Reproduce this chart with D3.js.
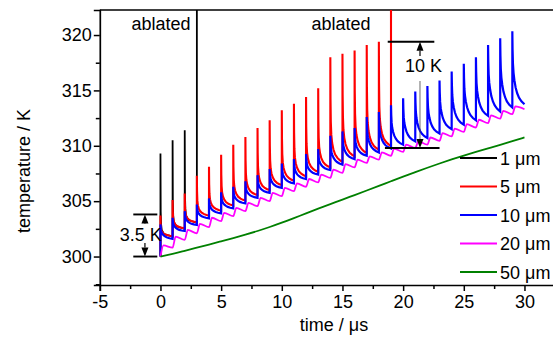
<!DOCTYPE html>
<html><head><meta charset="utf-8">
<script src="https://cdn.jsdelivr.net/npm/d3@7"></script>
<style>body{margin:0;background:#fff;} svg{display:block;font-family:"Liberation Sans",Arial,sans-serif;}</style>
</head><body><svg id="c" width="553" height="337"></svg>
<script>
// ---------- data ----------
const xTicks = [-5, 0, 5, 10, 15, 20, 25, 30];
const xMinor = [-2.5, 2.5, 7.5, 12.5, 17.5, 22.5, 27.5, 32.5];
const yTicks = [300, 305, 310, 315, 320];
const yMinor = [297.5, 302.5, 307.5, 312.5, 317.5];
const seriesNames = ["1 \u03bcm", "5 \u03bcm", "10 \u03bcm", "20 \u03bcm", "50 \u03bcm"];
const seriesColors = ["#000000", "#ff0000", "#0000ff", "#ff00ff", "#008000"];

// 1 um: spikes at t = 0,1,2 ; ablated at t = 3
const blackPeaks = [309.3, 310.5, 311.4];
const blackTroughs = [301.8, 302.5, 303.05];
const blackAblatedAt = 3;

// 5 um: spikes at t = 0..18 ; ablated at t = 19
const redPeaks = [303.7, 305.1, 305.7, 307.3, 308.1, 309.2, 310.1, 310.8, 311.6, 312.3,
                  313.2, 313.8, 314.4, 315.2, 318.0, 318.3, 318.6, 319.1, 319.4];
const redTroughs = [301.85, 302.55, 303.1, 303.7, 304.15, 304.6, 305.05, 305.55, 306.0, 306.45,
                    306.85, 307.25, 307.65, 308.05, 308.55, 309.05, 309.35, 309.65, 310.0];
const redAblatedAt = 19;

// 10 um: spikes at t = 0..29
const bluePeaks = [302.9, 303.5, 304.1, 304.7, 305.25, 305.8, 306.3, 306.8, 307.35, 307.9,
                   308.4, 308.8, 309.25, 309.7, 310.9, 311.3, 311.6, 312.6, 313.05, 313.65,
                   314.3, 314.9, 315.4, 315.9, 316.7, 317.4, 318.0, 319.1, 319.7, 320.35];
const blueTroughs = [301.6, 302.3, 302.85, 303.45, 303.9, 304.35, 304.8, 305.3, 305.75, 306.2,
                     306.6, 307.0, 307.4, 307.8, 308.3, 308.8, 309.1, 309.4, 309.75, 310.1,
                     310.4, 310.7, 311.1, 311.5, 311.9, 312.3, 312.7, 313.1, 313.45, 313.75];

// 20 um: rippled rise (trough at each pulse time, bump shortly after)
const magentaTroughs = [300.0, 300.8, 301.5, 302.1, 302.65, 303.2, 303.65, 304.1, 304.55, 305.0,
                        305.45, 305.9, 306.3, 306.7, 307.1, 307.55, 308.05, 308.45, 308.75, 309.1,
                        309.45, 309.8, 310.1, 310.45, 310.85, 311.25, 311.65, 312.05, 312.45, 312.85, 313.3];
const magentaPeaks = [301.0, 301.8, 302.4, 302.95, 303.5, 303.95, 304.4, 304.85, 305.3, 305.75,
                      306.2, 306.6, 307.0, 307.4, 307.85, 308.35, 308.75, 309.05, 309.4, 309.75,
                      310.1, 310.4, 310.75, 311.15, 311.55, 311.95, 312.35, 312.75, 313.15, 313.55];

// 50 um: smooth rise
const greenTimes = [0, 1, 2, 3, 4, 5, 6, 7, 8, 9, 10, 11, 12, 13, 14, 15, 16, 17, 18, 19, 20,
                    21, 22, 23, 24, 25, 26, 27, 28, 29, 30];
const greenValues = [300.0, 300.22, 300.52, 300.8, 301.08, 301.37, 301.66, 301.97, 302.3, 302.66,
                     303.05, 303.47, 303.9, 304.32, 304.73, 305.14, 305.55, 305.96, 306.38, 306.8,
                     307.22, 307.62, 308.02, 308.4, 308.77, 309.12, 309.45, 309.77, 310.08, 310.42, 310.75];

// decay profiles after a pulse (fraction of the time step, fraction of spike height left)
const blackShape = [[0.02, 0.3], [0.05, 0.15], [0.1, 0.08], [0.3, 0.03], [1, 0]];
const redShape = [[0.015, 0.6], [0.04, 0.38], [0.08, 0.26], [0.15, 0.18], [0.25, 0.12], [0.4, 0.07], [0.6, 0.035], [0.8, 0.014], [1, 0]];
const blueShape = [[0.02, 0.75], [0.05, 0.56], [0.1, 0.43], [0.17, 0.33], [0.27, 0.23], [0.4, 0.15], [0.55, 0.09], [0.75, 0.04], [1, 0]];

// ---------- layout ----------
const svg = d3.select("#c");
const X0 = 99.8, X1 = 554.8, Y0 = 285, Y1 = 10;
const x = d3.scaleLinear().domain([-5, 32.5]).range([X0, X1]);
const y = d3.scaleLinear().domain([297.43, 322.26]).range([Y0, Y1]);

svg.append("defs").append("clipPath").attr("id", "clip")
  .append("rect").attr("x", X0).attr("y", Y1).attr("width", X1 - X0).attr("height", Y0 - Y1);

const FS = 18;
const fmt = d => String(d); // plain hyphen minus like the original

// axes
const gx = svg.append("g").attr("transform", `translate(0,${Y0})`)
  .call(d3.axisBottom(x).tickValues(xTicks).tickSize(6).tickPadding(4).tickFormat(fmt));
const gxm = svg.append("g").attr("transform", `translate(0,${Y0})`)
  .call(d3.axisBottom(x).tickValues(xMinor).tickSize(4).tickFormat(""));
const gy = svg.append("g").attr("transform", `translate(${X0},0)`)
  .call(d3.axisLeft(y).tickValues(yTicks).tickSize(6).tickPadding(2).tickFormat(fmt));
const gym = svg.append("g").attr("transform", `translate(${X0},0)`)
  .call(d3.axisLeft(y).tickValues(yMinor).tickSize(4).tickFormat(""));
[gx, gxm, gy, gym].forEach(g => {
  g.select(".domain").attr("stroke", "#000").attr("stroke-width", 1.7);
  g.selectAll(".tick line").attr("stroke", "#000").attr("stroke-width", 1.5);
  g.selectAll(".tick text").attr("fill", "#000").style("font-size", FS + "px")
    .style("font-family", '"Liberation Sans",Arial,sans-serif');
});
gxm.select(".domain").remove();
gym.select(".domain").remove();
// top frame line
svg.append("line").attr("x1", X0).attr("x2", X1).attr("y1", Y1).attr("y2", Y1)
  .attr("stroke", "#000").attr("stroke-width", 1.7);

// axis titles
svg.append("text").attr("x", 334).attr("y", 331).attr("text-anchor", "middle")
  .style("font-size", "18px").text("time / \u03bcs");
svg.append("text").attr("transform", "translate(30,171) rotate(-90)").attr("text-anchor", "middle")
  .style("font-size", "18px").text("temperature / K");

// ---------- series ----------
function sawtooth(peaks, troughs, shape, ablateAt) {
  const pts = [[0, 300]];
  let prev = 300;
  peaks.forEach((p, k) => {
    pts.push([k, prev]);
    pts.push([k, p]);
    const tr = troughs[k];
    shape.forEach(([s, f]) => pts.push([k + s, tr + (p - tr) * f]));
    prev = tr;
  });
  if (ablateAt !== undefined) {
    pts.push([ablateAt, prev]);
    pts.push([ablateAt, 335]);
  }
  return pts;
}
const lineLin = d3.line().x(d => x(d[0])).y(d => y(d[1]));
const lineSmooth = d3.line().x(d => x(d[0])).y(d => y(d[1])).curve(d3.curveMonotoneX);

const plot = svg.append("g").attr("clip-path", "url(#clip)");

plot.append("path").datum(sawtooth(blackPeaks, blackTroughs, blackShape, blackAblatedAt))
  .attr("d", lineLin).attr("fill", "none").attr("stroke", seriesColors[0]).attr("stroke-width", 1.8);
plot.append("path").datum(sawtooth(redPeaks, redTroughs, redShape, redAblatedAt))
  .attr("d", lineLin).attr("fill", "none").attr("stroke", seriesColors[1]).attr("stroke-width", 2.1);
plot.append("path").datum(sawtooth(bluePeaks, blueTroughs, blueShape))
  .attr("d", lineLin).attr("fill", "none").attr("stroke", seriesColors[2]).attr("stroke-width", 2.2);

const magPts = [];
magentaPeaks.forEach((p, k) => { magPts.push([k, magentaTroughs[k]]); magPts.push([k + 0.25, p]); });
magPts.push([30, magentaTroughs[30]]);
plot.append("path").datum(magPts).attr("d", lineSmooth).attr("fill", "none")
  .attr("stroke", seriesColors[3]).attr("stroke-width", 1.8);

plot.append("path").datum(greenTimes.map((t, i) => [t, greenValues[i]])).attr("d", d3.line().x(d => x(d[0])).y(d => y(d[1])).curve(d3.curveBasis))
  .attr("fill", "none").attr("stroke", seriesColors[4]).attr("stroke-width", 1.8);

// ---------- legend ----------
const legRows = [158, 186.5, 215, 243.5, 272];
const leg = svg.append("g");
seriesNames.forEach((n, i) => {
  leg.append("line").attr("x1", 460).attr("x2", 497).attr("y1", legRows[i]).attr("y2", legRows[i])
    .attr("stroke", seriesColors[i]).attr("stroke-width", 2);
  leg.append("text").attr("x", 500).attr("y", legRows[i] + 6.5).style("font-size", FS + "px").text(n);
});

// ---------- annotations ----------
const ann = svg.append("g");
function hline(t0, t1, v) {
  ann.append("line").attr("x1", x(t0)).attr("x2", x(t1)).attr("y1", y(v)).attr("y2", y(v))
    .attr("stroke", "#000").attr("stroke-width", 1.9);
}
function arrow(t, v, dir) { // dir -1 up, +1 down ; tip at value v
  const px = x(t), py = y(v), h = 9, w = 3.5;
  ann.append("path").attr("d", `M${px},${py} L${px - w},${py - dir * h} L${px + w},${py - dir * h} Z`)
    .attr("fill", "#000");
  return py - dir * h;
}
// 3.5 K
hline(-2.24, -0.26, 303.8);
hline(-2.24, -0.26, 300.0);
const a1 = arrow(-1.28, 303.8, -1);
const a2 = arrow(-1.28, 300.0, 1);
ann.append("line").attr("x1", x(-1.28)).attr("x2", x(-1.28)).attr("y1", a1).attr("y2", 224).attr("stroke", "#000").attr("stroke-width", 1.2);
ann.append("line").attr("x1", x(-1.28)).attr("x2", x(-1.28)).attr("y1", 243).attr("y2", a2).attr("stroke", "#000").attr("stroke-width", 1.2);
ann.append("text").attr("x", x(-3.35)).attr("y", 240.5).style("font-size", FS + "px").text("3.5 K");

// 10 K
hline(18.73, 22.57, 319.4);
hline(18.5, 23.0, 309.8);
const b1 = arrow(21.39, 319.4, -1);
const b2 = arrow(21.39, 309.8, 1);
ann.append("line").attr("x1", x(21.39)).attr("x2", x(21.39)).attr("y1", b1).attr("y2", 56).attr("stroke", "#000").attr("stroke-width", 1.2);
ann.append("line").attr("x1", x(21.39)).attr("x2", x(21.39)).attr("y1", 81).attr("y2", b2).attr("stroke", "#444").attr("stroke-width", 0.8);
ann.append("text").attr("x", x(20.15)).attr("y", 72).style("font-size", FS + "px").text("10 K");

// ablated labels
ann.append("text").attr("x", 131.5).attr("y", 30).style("font-size", FS + "px").text("ablated");
ann.append("text").attr("x", 311.5).attr("y", 30).style("font-size", FS + "px").text("ablated");
</script></body></html>
